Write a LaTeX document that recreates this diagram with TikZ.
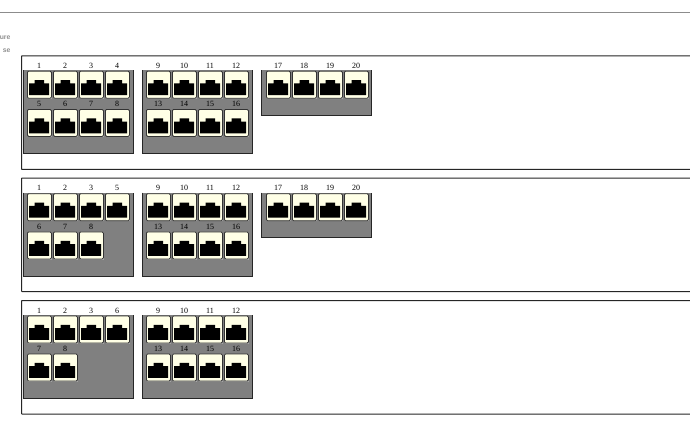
\documentclass[tikz,border=0pt]{standalone}
\usepackage{fontspec}
\setmainfont{Liberation Serif}
\newfontfamily\sidefont{Liberation Sans}
\definecolor{panelgray}{HTML}{808080}
\definecolor{cream}{HTML}{FFFFE6}
\definecolor{ruleg}{HTML}{8C8C8C}
\definecolor{sidegray}{HTML}{909090}
\tikzset{
  rowbox/.style={draw=black!85,line width=1pt,fill=white,minimum width=700pt,anchor=north west,inner sep=0pt,rounded corners=0.5pt},
  panel/.style={fill=panelgray,draw=none,minimum width=110pt,anchor=north west,inner sep=0pt},
  portbox/.style={draw=black!80,line width=0.8pt,fill=cream,rounded corners=1.2pt,minimum width=24pt,minimum height=27pt,anchor=north west,inner sep=0pt},
  portnum/.style={font=\fontsize{8}{9}\selectfont,inner sep=0pt,text=black},
  sidetext/.style={font=\sidefont\bfseries\fontsize{6.8}{8}\selectfont,text=sidegray,inner sep=0pt,anchor=east}
}
% #1 name, #2 x, #3 y, #4 label
\newcommand{\rjport}[4]{%
  \fill[black!35] (#2+0.8,#3+0.8) rectangle (#2+25,#3+28);
  \node[portbox] (#1) at (#2,#3) {};
  \fill[black] (#2+2,#3+24.3) -- (#2+2,#3+12.5) -- (#2+7.5,#3+12.5) -- (#2+7.5,#3+9.3) -- (#2+17,#3+9.3) -- (#2+17,#3+12.5) -- (#2+22,#3+12.5) -- (#2+22,#3+24.3) -- cycle;
  \node[portnum] (#1n) at (#2+12,#3-5) {#4};
}
% #1 name, #2 x, #3 y, #4 height
\newcommand{\rjpanel}[4]{%
  \node[panel,minimum height=#4 pt] (#1) at (#2,#3) {};
  \draw[black!85,line width=1pt] (#1.north west) -- (#1.south west) -- (#1.south east) -- (#1.north east);
}
\begin{document}
\begin{tikzpicture}[x=1pt,y=-1pt]
\useasboundingbox (0,0) rectangle (690,420);
\clip (0,0) rectangle (690,420);
\fill[white] (0,0) rectangle (690,420);
\coordinate (ruleL) at (0,13);
\coordinate (ruleR) at (690,13);
\draw[ruleg,line width=1pt] (ruleL) -- (ruleR);
\node[sidetext] (sa) at (10.6,38) {ure};
\node[sidetext] (sb) at (10.6,50.5) {se};

% Row 1
\node[rowbox,minimum height=113.5pt] (rowa) at (21,55.3) {};
\rjpanel{pa1}{23.3}{70}{83.3}
\rjpanel{pa2}{142.3}{70}{83.3}
\rjpanel{pa3}{261.3}{70}{45}
\rjport{a1}{27}{70.8}{1}\rjport{a2}{53}{70.8}{2}\rjport{a3}{79}{70.8}{3}\rjport{a4}{105}{70.8}{4}
\rjport{a5}{27}{109}{5}\rjport{a6}{53}{109}{6}\rjport{a7}{79}{109}{7}\rjport{a8}{105}{109}{8}
\rjport{a9}{146}{70.8}{9}\rjport{a10}{172}{70.8}{10}\rjport{a11}{198}{70.8}{11}\rjport{a12}{224}{70.8}{12}
\rjport{a13}{146}{109}{13}\rjport{a14}{172}{109}{14}\rjport{a15}{198}{109}{15}\rjport{a16}{224}{109}{16}
\rjport{a17}{266}{70.8}{17}\rjport{a18}{292}{70.8}{18}\rjport{a19}{318}{70.8}{19}\rjport{a20}{344}{70.8}{20}

% Row 2
\node[rowbox,minimum height=113.5pt] (rowb) at (21,177.5) {};
\rjpanel{pb1}{23.3}{192.5}{83.3}
\rjpanel{pb2}{142.3}{192.5}{83.3}
\rjpanel{pb3}{261.3}{192.5}{45}
\rjport{b1}{27}{193.3}{1}\rjport{b2}{53}{193.3}{2}\rjport{b3}{79}{193.3}{3}\rjport{b4}{105}{193.3}{5}
\rjport{b5}{27}{231.5}{6}\rjport{b6}{53}{231.5}{7}\rjport{b7}{79}{231.5}{8}
\rjport{b9}{146}{193.3}{9}\rjport{b10}{172}{193.3}{10}\rjport{b11}{198}{193.3}{11}\rjport{b12}{224}{193.3}{12}
\rjport{b13}{146}{231.5}{13}\rjport{b14}{172}{231.5}{14}\rjport{b15}{198}{231.5}{15}\rjport{b16}{224}{231.5}{16}
\rjport{b17}{266}{193.3}{17}\rjport{b18}{292}{193.3}{18}\rjport{b19}{318}{193.3}{19}\rjport{b20}{344}{193.3}{20}

% Row 3
\node[rowbox,minimum height=113.5pt] (rowc) at (21,300) {};
\rjpanel{pc1}{23.3}{315}{83.3}
\rjpanel{pc2}{142.3}{315}{83.3}
\rjport{c1}{27}{315.6}{1}\rjport{c2}{53}{315.6}{2}\rjport{c3}{79}{315.6}{3}\rjport{c4}{105}{315.6}{6}
\rjport{c5}{27}{353.6}{7}\rjport{c6}{53}{353.6}{8}
\rjport{c9}{146}{315.6}{9}\rjport{c10}{172}{315.6}{10}\rjport{c11}{198}{315.6}{11}\rjport{c12}{224}{315.6}{12}
\rjport{c13}{146}{353.6}{13}\rjport{c14}{172}{353.6}{14}\rjport{c15}{198}{353.6}{15}\rjport{c16}{224}{353.6}{16}
\end{tikzpicture}
\end{document}
